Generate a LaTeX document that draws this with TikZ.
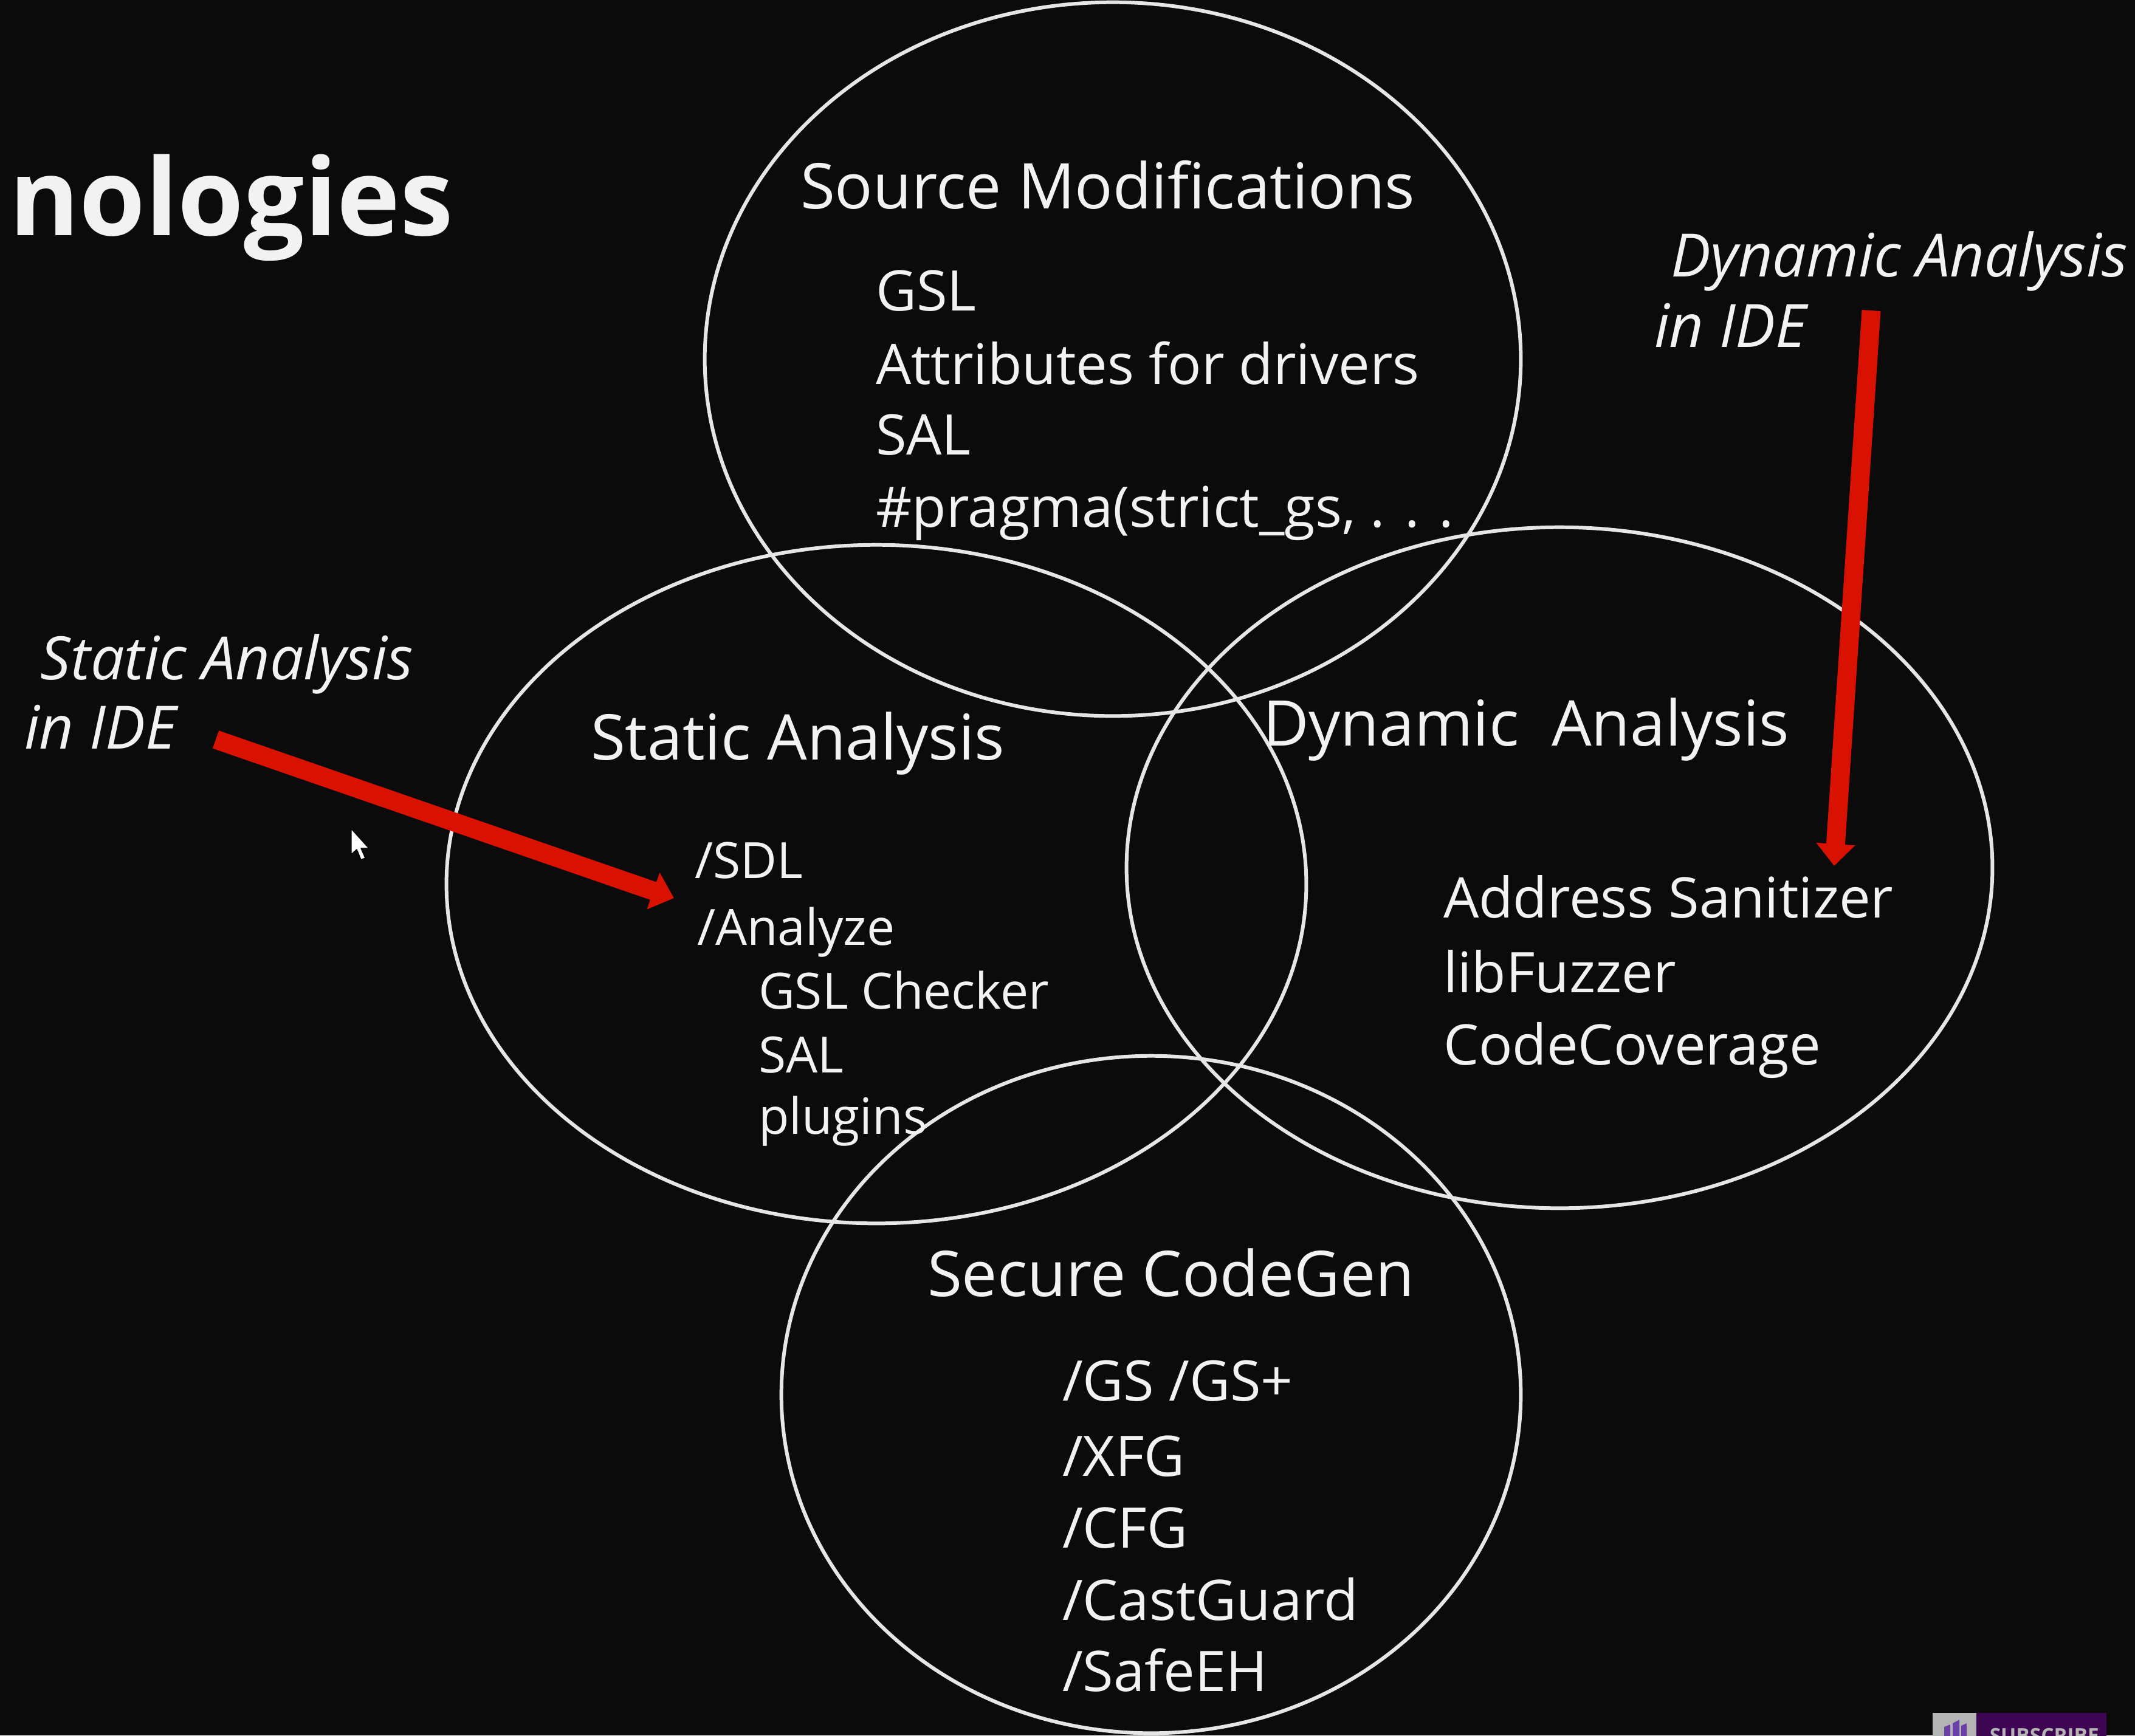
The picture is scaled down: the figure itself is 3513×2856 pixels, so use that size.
\documentclass[tikz,border=0pt]{standalone}
\usepackage{fontspec}
\setmainfont{Open Sans}
\usetikzlibrary{shapes.geometric,arrows.meta}
\definecolor{bg}{HTML}{0B0B0B}
\definecolor{fg}{HTML}{F2F2F2}
\definecolor{ln}{HTML}{E6E6E6}
\definecolor{redarr}{HTML}{D81100}
\definecolor{vsp}{HTML}{3E0652}
\definecolor{vsicon}{HTML}{6B3FA8}
\definecolor{badgegray}{HTML}{B4B4B4}
\begin{document}
\begin{tikzpicture}[x=0.01cm,y=-0.01cm,
  venn/.style={draw=ln, line width=1.7pt, ellipse, inner sep=0pt, outer sep=0pt},
  txt/.style={text=fg, anchor=base west, inner sep=0pt, outer sep=0pt},
  ttl/.style={txt, font=\fontsize{29.5}{34}\selectfont},
  itm/.style={txt, font=\fontsize{26.2}{30}\selectfont},
  sitm/.style={txt, font=\fontsize{23.4}{28}\selectfont},
  ide/.style={txt, font=\fontsize{28}{32}\selectfont\itshape},
  redarrow/.style={draw=redarr, line width=0.31cm, -{Triangle[length=0.36cm,width=0.62cm]}},
]
\useasboundingbox (0,0) rectangle (3513,2856);
\fill[bg] (0,0) rectangle (3513,2856);

% heading fragment
\node[txt, font=\fontsize{50}{58}\selectfont\bfseries] (head) at (15,387) {nologies};

% ellipses
\node[venn, minimum width=13.42cm, minimum height=11.74cm] (src) at (1831,591) {};
\node[venn, minimum width=14.14cm, minimum height=11.16cm] (sta) at (1442,1455) {};
\node[venn, minimum width=14.24cm, minimum height=11.20cm] (dyn) at (2566,1428) {};
\node[venn, minimum width=12.16cm, minimum height=11.14cm] (sec) at (1894,2295) {};

% Source Modifications
\node[ttl] (srcT) at (1317,343) {Source Modifications};
\node[itm] (src1) at (1441,511) {GSL};
\node[itm] (src2) at (1441,632) {Attributes for drivers};
\node[itm] (src3) at (1441,748) {SAL};
\node[itm] (src4) at (1441,867) {\#pragma(strict\_gs, . . .};

% Static Analysis
\node[ttl] (staT) at (972,1250) {Static Analysis};
\node[sitm] (sta1) at (1143,1445) {/SDL};
\node[sitm] (sta2) at (1147,1555) {/Analyze};
\node[sitm] (sta3) at (1248,1660) {GSL Checker};
\node[sitm] (sta4) at (1248,1765) {SAL};
\node[sitm] (sta5) at (1248,1866) {plugins};

% Dynamic Analysis
\node[ttl] (dynT) at (2078,1227) {Dynamic\ \ Analysis};
\node[itm] (dyn1) at (2375,1510) {Address Sanitizer};
\node[itm] (dyn2) at (2375,1633) {libFuzzer};
\node[itm] (dyn3) at (2375,1752) {CodeCoverage};

% Secure CodeGen
\node[ttl] (secT) at (1526,2133) {Secure CodeGen};
\node[itm] (sec1) at (1748,2305) {/GS /GS+};
\node[itm] (sec2) at (1748,2429) {/XFG};
\node[itm] (sec3) at (1748,2547) {/CFG};
\node[itm] (sec4) at (1748,2666) {/CastGuard};
\node[itm] (sec5) at (1748,2783) {/SafeEH};

% IDE labels
\node[ide] (sIDE1) at (67,1118) {Static Analysis};
\node[ide] (sIDE2) at (40,1232) {in IDE};
\node[ide] (dIDE1) at (2749,455) {Dynamic Analysis};
\node[ide] (dIDE2) at (2722,571) {in IDE};

% red arrows
\coordinate (sTail) at (355,1217);
\coordinate (sTip) at (1109,1478);
\draw[redarrow] (sTail) -- (sTip);
\coordinate (dTail) at (3079,511);
\coordinate (dTip) at (3018,1425);
\draw[redarrow] (dTail) -- (dTip);

% mouse cursor
\draw[fill=white, draw=black, line width=0.4pt, line join=round]
  (578,1364) -- ++(0,42) -- ++(9,-8) -- ++(7,17) -- ++(7,-3) -- ++(-7,-16) -- ++(13,0) -- cycle;

% subscribe badge (cut off at the bottom)
\begin{scope}
  \clip (0,0) rectangle (3513,2856);
  \fill[badgegray] (3180,2819) rectangle (3252,2870);
  \fill[vsp] (3252,2819) rectangle (3466,2870);
  \fill[vsicon] (3199,2842) -- (3209,2838) -- (3209,2870) -- (3199,2870) -- cycle;
  \fill[vsicon] (3213,2836) -- (3224,2830) -- (3224,2870) -- (3213,2870) -- cycle;
  \fill[vsicon] (3227,2840) -- (3236,2836) -- (3236,2870) -- (3227,2870) -- cycle;
  \node[anchor=base west, inner sep=0pt, text=badgegray, font=\fontsize{9.5}{10}\selectfont\bfseries] (subs) at (3273,2868) {SUBSCRIBE};
\end{scope}
\end{tikzpicture}
\end{document}
